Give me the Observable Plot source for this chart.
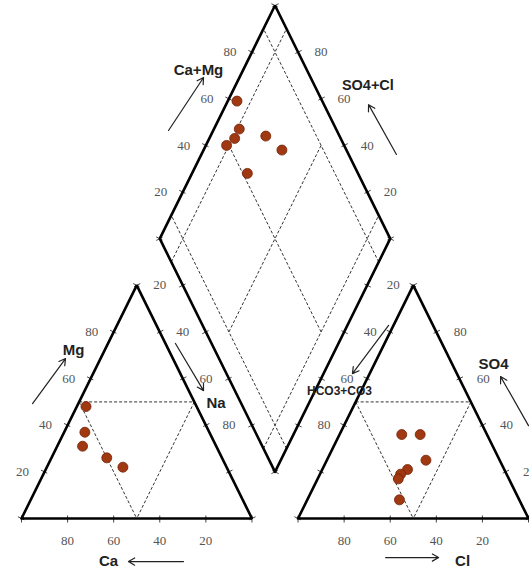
<!DOCTYPE html>
<html><head><meta charset="utf-8">
<script src="https://cdn.jsdelivr.net/npm/d3@7"></script>
<script src="https://cdn.jsdelivr.net/npm/@observablehq/plot@0.6"></script>
<style>html,body{margin:0;padding:0;background:#fff;} svg{display:block}</style>
</head><body><div id="chart"></div>
<script>
// ---- data ----
const tickValues = [20, 40, 60, 80];
const tickMarks = [0, 20, 40, 60, 80, 100];
// cation triangle (%)
const cationCa = [48, 54, 58, 50, 45];
const cationMg = [48, 37, 31, 26, 22];
// anion triangle (%)
const anionCl = [27, 35, 43, 37, 35, 35, 40];
const anionSO4 = [36, 36, 25, 21, 19, 17, 8];
// diamond (%)
const diamondCaMg = [63, 58, 54, 49, 68, 72, 52];
const diamondSO4Cl = [96, 89, 89, 91, 76, 66, 76];

// ---- geometry ----
const H = Math.sqrt(3) / 2;
const GAP = 20;
const XMAX = 200 + GAP;
const YMAX = GAP * H + 200 * H;
const XR = [21, 528], YR = [518, 5];
const sx = (XR[1] - XR[0]) / XMAX, sy = (YR[0] - YR[1]) / YMAX;
const tri = (off, b, c) => ({x: off + b + c / 2, y: c * H});
const dia = (a, b) => ({x: 100 + GAP / 2 + (a - b) / 2, y: GAP * H + (a + b) * H});
const ROFF = 100 + GAP;

// outlines
const outlines = [];
[[tri(0,0,0), tri(0,100,0), tri(0,0,100), tri(0,0,0)],
 [tri(ROFF,0,0), tri(ROFF,100,0), tri(ROFF,0,100), tri(ROFF,0,0)],
 [dia(0,0), dia(100,0), dia(100,100), dia(0,100), dia(0,0)]
].forEach((poly, i) => poly.forEach(p => outlines.push({...p, g: i})));

// dashed inner lines
const seg = (p, q) => ({x1: p.x, y1: p.y, x2: q.x, y2: q.y});
const dashed = [];
for (const off of [0, ROFF]) {
  dashed.push(seg(tri(off,0,50), tri(off,50,50)));
  dashed.push(seg(tri(off,0,50), tri(off,50,0)));
  dashed.push(seg(tri(off,50,50), tri(off,50,0)));
}
for (const v of [10, 90]) {
  dashed.push(seg(dia(v,0), dia(v,100)));
  dashed.push(seg(dia(0,v), dia(100,v)));
}
dashed.push(seg(dia(50,10), dia(50,90)));
dashed.push(seg(dia(10,50), dia(90,50)));

// ticks
const tickSegs = [];
function edgeTicks(p0, p1, center) {
  for (const v of tickMarks) {
    const P = {x: p0.x + (p1.x - p0.x) * v / 100, y: p0.y + (p1.y - p0.y) * v / 100};
    let ux = (p1.x - p0.x) * sx, uy = -(p1.y - p0.y) * sy;
    const n0 = Math.hypot(ux, uy); ux /= n0; uy /= n0;
    let nx = -uy, ny = ux;
    const cx = (center.x - P.x) * sx, cy = -(center.y - P.y) * sy;
    if (nx * cx + ny * cy > 0) { nx = -nx; ny = -ny; }
    const out = 4, inn = 3;
    tickSegs.push({x1: P.x + nx * out / sx, y1: P.y - ny * out / sy,
                   x2: P.x - nx * inn / sx, y2: P.y + ny * inn / sy});
  }
}
const cL = tri(0, 33, 33), cR = tri(ROFF, 33, 33), cD = dia(50, 50);
edgeTicks(tri(0,0,0), tri(0,100,0), cL);
edgeTicks(tri(0,0,0), tri(0,0,100), cL);
edgeTicks(tri(0,100,0), tri(0,0,100), cL);
edgeTicks(tri(ROFF,0,0), tri(ROFF,100,0), cR);
edgeTicks(tri(ROFF,0,0), tri(ROFF,0,100), cR);
edgeTicks(tri(ROFF,100,0), tri(ROFF,0,100), cR);
edgeTicks(dia(0,0), dia(100,0), cD);
edgeTicks(dia(100,0), dia(100,100), cD);
edgeTicks(dia(100,100), dia(0,100), cD);
edgeTicks(dia(0,100), dia(0,0), cD);

// tick labels (offset in pixels converted to chart units)
const labels = [];
const lab = (p, t, dx, dy) => labels.push({x: p.x + dx / sx, y: p.y - dy / sy, t});
for (const v of tickValues) {
  lab(tri(0, 0, v), v, -22, 0);             // Mg
  lab(tri(0, v, 0), 100 - v, 0, 22);        // Ca
  lab(tri(ROFF, v, 0), 100 - v, 0, 22);     // Cl axis
  lab(tri(ROFF, 100 - v, v), v, 24, 0);     // SO4
  lab(dia(v, 100), v, -22, 0);              // Ca+Mg
  lab(dia(100, v), v, 23, 0);               // SO4+Cl
  lab(dia(0, 100 - v), v, -23, 0);          // Na side
  lab(dia(100 - v, 0), v, 26, 0);           // HCO3 side
}

// points
const points = [];
cationCa.forEach((ca, i) => points.push(tri(0, 100 - ca - cationMg[i], cationMg[i])));
anionCl.forEach((cl, i) => points.push(tri(ROFF, cl, anionSO4[i])));
diamondCaMg.forEach((a, i) => points.push(dia(a, diamondSO4Cl[i])));

// axis names and arrows (annotation positions in chart units)
const names = [
  {x: 76.8, y: 166.4, t: "Ca+Mg", s: 15},
  {x: 150.3, y: 161.0, t: "SO4+Cl", s: 14.5},
  {x: 22.6, y: 62.4, t: "Mg", s: 15},
  {x: 84.4, y: 42.7, t: "Na", s: 15},
  {x: 37.8, y: -16.0, t: "Ca", s: 15},
  {x: 191.4, y: -16.0, t: "Cl", s: 15},
  {x: 204.8, y: 57.2, t: "SO4", s: 15},
  {x: 138.0, y: 47.2, t: "HCO3+CO3", s: 12}
];
const arrows = [
  {x1: 63.8, y1: 144.1, x2: 79.0, y2: 163.8},
  {x1: 162.7, y1: 135.2, x2: 150.6, y2: 153.7},
  {x1: 4.8, y1: 42.7, x2: 19.1, y2: 59.4},
  {x1: 66.8, y1: 65.0, x2: 79.0, y2: 47.5},
  {x1: 70.3, y1: -16.0, x2: 46.4, y2: -16.0},
  {x1: 158.0, y1: -14.5, x2: 181.0, y2: -14.5},
  {x1: 220.0, y1: 34.5, x2: 207.9, y2: 52.7},
  {x1: 159.3, y1: 71.7, x2: 143.6, y2: 53.8}
];

const chart = Plot.plot({
  width: 529, height: 576,
  margin: 0,
  x: {domain: [0, XMAX], range: XR, axis: null},
  y: {domain: [0, YMAX], range: YR, axis: null},
  style: {background: "#fff"},
  marks: [
    Plot.link(dashed, {x1: "x1", y1: "y1", x2: "x2", y2: "y2", stroke: "#333", strokeWidth: 1, strokeDasharray: "3,2"}),
    Plot.link(tickSegs, {x1: "x1", y1: "y1", x2: "x2", y2: "y2", stroke: "#444", strokeWidth: 1}),
    Plot.line(outlines, {x: "x", y: "y", z: "g", stroke: "#000", strokeWidth: 2.6, strokeLinejoin: "miter"}),
    Plot.text(labels, {x: "x", y: "y", text: d => String(d.t), fontFamily: "Liberation Serif", fontSize: 13, fill: "#555"}),
    Plot.arrow(arrows, {x1: "x1", y1: "y1", x2: "x2", y2: "y2", stroke: "#222", strokeWidth: 1.2, headLength: 9}),
    Plot.text(names, {x: "x", y: "y", text: "t", fontSize: d => d.s, fontFamily: "Liberation Sans", fontWeight: "bold", fill: "#222"}),
    Plot.dot(points, {x: "x", y: "y", r: 5, fill: "#a03812", stroke: "#74240a", strokeWidth: 0.8})
  ]
});
document.getElementById("chart").append(chart);
</script>
</body></html>
